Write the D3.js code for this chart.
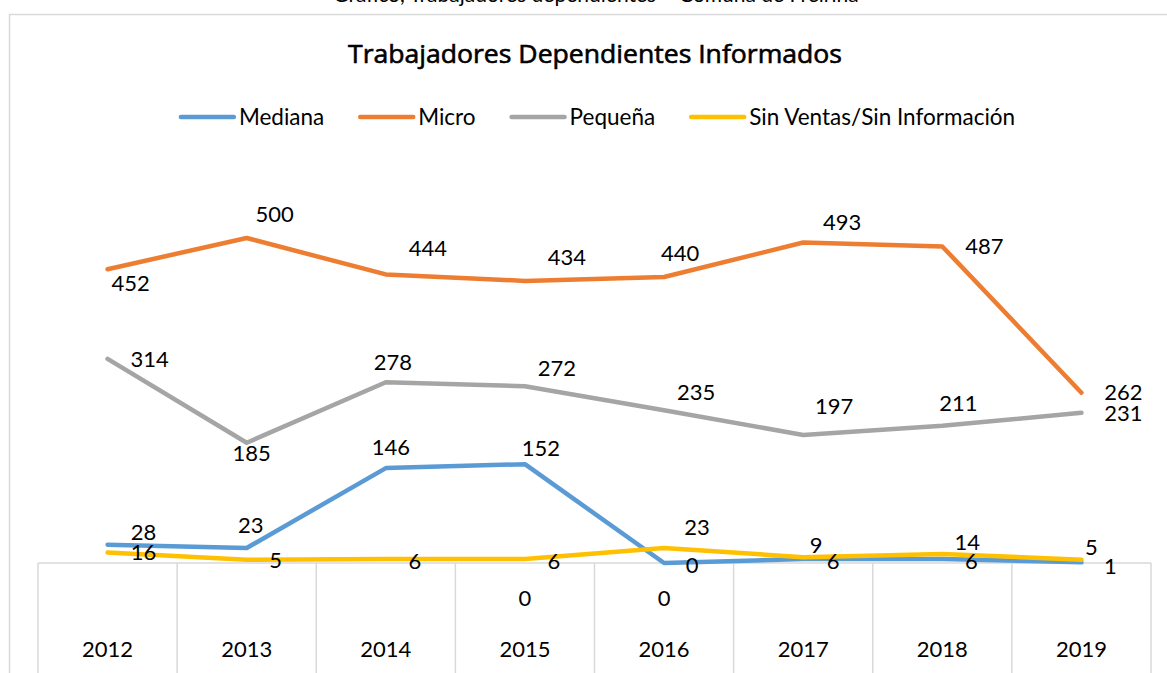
<!DOCTYPE html>
<html><head><meta charset="utf-8">
<script src="https://cdn.jsdelivr.net/npm/d3@7"></script>
<style>
html,body{margin:0;padding:0;background:#fff;}
svg{display:block;font-family:Lato,"Open Sans",sans-serif;}
</style></head>
<body>
<svg id="chart" width="1167" height="673"></svg>
<script>
// ---- data ----
const years = ["2012","2013","2014","2015","2016","2017","2018","2019"];
const innerLabels = ["","","","0","0","","",""];
const seriesNames = ["Mediana","Micro","Pequeña","Sin Ventas/Sin Información"];
const mediana = [28,23,146,152,0,6,6,1];
const micro = [452,500,444,434,440,493,487,262];
const pequena = [314,185,278,272,235,197,211,231];
const sinVentas = [16,5,6,6,23,9,14,5];
const chartTitle = "Trabajadores Dependientes Informados";
const pageCaption = "Gráfico, Trabajadores dependientes – Comuna de Freirina";

// ---- styles / label placement (not data) ----
const colors = ["#5B9BD5","#ED7D31","#A5A5A5","#FFC000"];
const labelOffsets = [
  [[36,-13],[4,-23],[5,-21],[16,-16],[28,2],[30,2],[29,2],[29,4]],
  [[23,14],[28,-24],[42,-26],[42,-24],[16,-24],[39,-20],[42,0],[42,0]],
  [[42,0],[5,11],[7,-20],[32,-18],[32,-18],[31,-29],[16,-23],[42,0]],
  [[36,0],[29,1],[29,2],[29,2],[33,-21],[13,-12],[25,-12],[10,-12]]
];
const seriesValues = [mediana, micro, pequena, sinVentas];

const svg = d3.select("#chart");
const W = 1167, H = 673;
const plotLeft = 38, plotRight = 1151, plotBottom = 563, plotTop = 173;
const fontSize = 22;

// outer chart border
svg.append("path")
  .attr("d", `M9.5,${H+5} L9.5,14.5 L${W+5},14.5`)
  .attr("fill","none").attr("stroke","#d9d9d9").attr("stroke-width",1.5);

// caption (cut at top)
svg.append("text").attr("x",596).attr("y",2).attr("text-anchor","middle")
  .attr("font-size",21).attr("fill","#000").text(pageCaption);

// title
svg.append("text").attr("x",595).attr("y",54).attr("dy","0.35em")
  .attr("text-anchor","middle").attr("font-size",25)
  .style("font-family","'Open Sans',Lato,sans-serif")
  .attr("fill","#000").attr("stroke","#000").attr("stroke-width",0.6)
  .attr("textLength",494).attr("lengthAdjust","spacingAndGlyphs")
  .text(chartTitle);

// scales
const x = d3.scaleBand().domain(years).range([plotLeft, plotRight]).paddingInner(0).paddingOuter(0);
const y = d3.scaleLinear().domain([0,600]).range([plotBottom, plotTop]);
const cx = d => x(d) + x.bandwidth()/2;

// category axis with vertical separators
const grid = svg.append("g");
grid.append("line").attr("x1",plotLeft).attr("x2",plotRight)
  .attr("y1",y(0)).attr("y2",y(0)).attr("stroke","#d9d9d9").attr("stroke-width",1.5);
const bounds = years.map(d => x(d)).concat([plotRight]);
grid.selectAll("line.sep").data(bounds).enter().append("line")
  .attr("class","sep").attr("x1",d=>d).attr("x2",d=>d)
  .attr("y1",y(0)).attr("y2",H).attr("stroke","#d9d9d9").attr("stroke-width",1.5);

// inner level labels
svg.append("g").selectAll("text").data(years).enter().append("text")
  .attr("x",d=>cx(d)).attr("y",598).attr("dy","0.35em").attr("text-anchor","middle")
  .attr("font-size",fontSize).attr("fill","#000")
  .text((d,i)=>innerLabels[i]);
// year labels
svg.append("g").selectAll("text").data(years).enter().append("text")
  .attr("x",d=>cx(d)).attr("y",649).attr("dy","0.35em").attr("text-anchor","middle")
  .attr("font-size",fontSize).attr("fill","#000").text(d=>d);

// lines
const line = d3.line().x((d,i)=>cx(years[i])).y(d=>y(d));
seriesValues.forEach((vals, s) => {
  svg.append("path").datum(vals).attr("d", line)
    .attr("fill","none").attr("stroke",colors[s]).attr("stroke-width",4.5)
    .attr("stroke-linejoin","round").attr("stroke-linecap","round");
});

// data labels
seriesValues.forEach((vals, s) => {
  svg.append("g").selectAll("text").data(vals).enter().append("text")
    .attr("x",(d,i)=>cx(years[i]) + labelOffsets[s][i][0])
    .attr("y",(d,i)=>y(d) + labelOffsets[s][i][1])
    .attr("dy","0.35em").attr("text-anchor","middle")
    .attr("font-size",fontSize).attr("fill","#000").text(d=>d);
});

// legend
const legend = svg.append("g");
const swatchW = 53, swGap = 5, itemGap = 36, legendFont = 22.5;
const items = seriesNames.map((n,i)=>{
  const g = legend.append("g");
  g.append("line").attr("x1",0).attr("x2",swatchW).attr("y1",0).attr("y2",0)
    .attr("stroke",colors[i]).attr("stroke-width",4.5).attr("stroke-linecap","round");
  const t = g.append("text").attr("x",swatchW+swGap).attr("y",0).attr("dy","0.35em")
    .attr("font-size",legendFont).attr("fill","#000").text(n);
  return {g, w: swatchW + swGap + t.node().getComputedTextLength()};
});
const totalW = d3.sum(items, d=>d.w) + itemGap*(items.length-1);
let lx = 598 - totalW/2;
items.forEach(it => { it.g.attr("transform",`translate(${lx},117)`); lx += it.w + itemGap; });
</script>
</body></html>
